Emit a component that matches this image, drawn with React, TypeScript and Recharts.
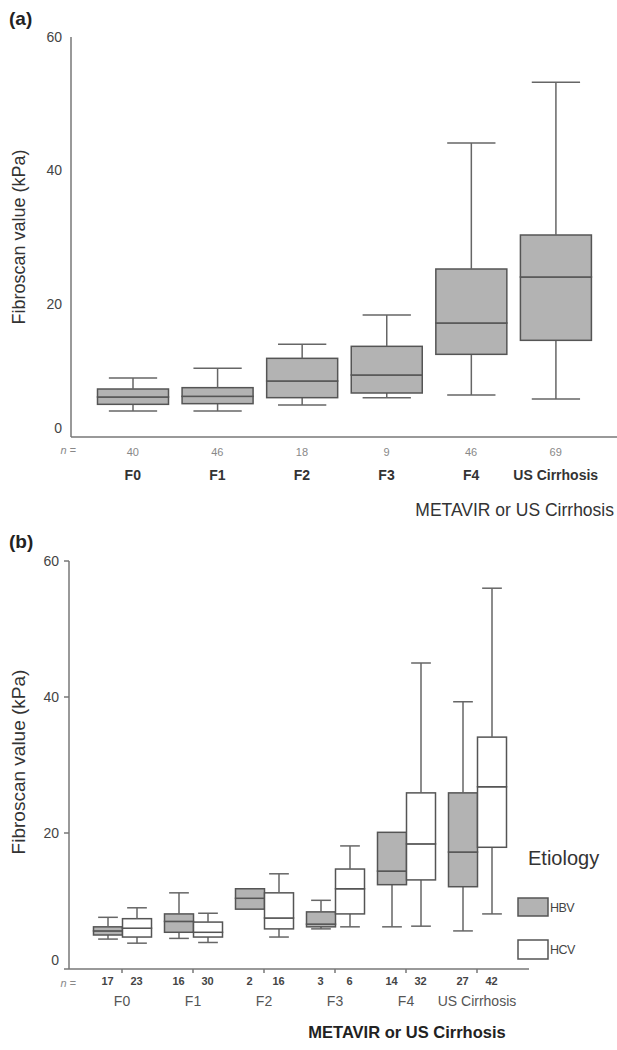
import React from "react";
import { ComposedChart, Bar, XAxis, YAxis } from "recharts";

// categories shared by both panels
const categories = ["F0", "F1", "F2", "F3", "F4", "US Cirrhosis"];
const yTicks = [0, 20, 40, 60];

// panel (a): all patients
const allN = [40, 46, 18, 9, 46, 69];
const allMin = [3.9, 3.9, 4.8, 5.9, 6.3, 5.7];
const allQ1 = [4.9, 5.0, 5.9, 6.6, 12.4, 14.5];
const allMedian = [6.0, 6.1, 8.4, 9.3, 17.1, 24.0];
const allQ3 = [7.2, 7.4, 11.8, 13.6, 25.2, 30.3];
const allMax = [8.85, 10.3, 13.9, 18.3, 44.1, 53.2];

// panel (b): HBV
const hbvN = [17, 16, 2, 3, 14, 27];
const hbvMin = [4.4, 4.5, 8.8, 5.9, 6.2, 5.6];
const hbvQ1 = [5.0, 5.4, 8.8, 6.2, 12.4, 12.1];
const hbvMedian = [5.6, 7.0, 10.4, 6.6, 14.4, 17.2];
const hbvQ3 = [6.2, 8.1, 11.8, 8.4, 20.1, 25.9];
const hbvMax = [7.6, 11.2, 11.8, 10.1, 20.1, 39.3];

// panel (b): HCV
const hcvN = [23, 30, 16, 6, 32, 42];
const hcvMin = [3.8, 3.9, 4.7, 6.2, 6.3, 8.1];
const hcvQ1 = [4.7, 4.7, 5.9, 8.1, 13.1, 17.9];
const hcvMedian = [6.0, 5.4, 7.5, 11.8, 18.4, 26.8];
const hcvQ3 = [7.4, 6.9, 11.2, 14.7, 25.9, 34.1];
const hcvMax = [9.0, 8.2, 14.0, 18.1, 45.0, 56.0];

const FONT = "'Liberation Sans', Arial, sans-serif";
const GREY = "#b3b3b3";
const EDGE = "#555";
const AXIS = "#777";

function stack(prefix: string, i: number, mn: number[], q1: number[], md: number[], q3: number[], mx: number[]) {
  return {
    [prefix + "Base"]: mn[i],
    [prefix + "Lw"]: q1[i] - mn[i],
    [prefix + "Lb"]: md[i] - q1[i],
    [prefix + "Ub"]: q3[i] - md[i],
    [prefix + "Uw"]: mx[i] - q3[i],
  };
}

const dataA = categories.map((cat, i) => ({
  cat,
  ...stack("all", i, allMin, allQ1, allMedian, allQ3, allMax),
}));

const dataB = categories.map((cat, i) => ({
  cat,
  ...stack("hbv", i, hbvMin, hbvQ1, hbvMedian, hbvQ3, hbvMax),
  ...stack("hcv", i, hcvMin, hcvQ1, hcvMedian, hcvQ3, hcvMax),
}));

const boxShape = (fill: string) => (p: any) => (
  <rect x={p.x} y={p.y} width={p.width} height={p.height} fill={fill} stroke={EDGE} strokeWidth={1.5} />
);

// whisker drawn from the box edge to the cap; cap at top or bottom
const whiskerShape = (upper: boolean) => (p: any) => {
  if (!p.height || p.height < 0.5) return null;
  const cx = p.x + p.width / 2;
  const half = p.width * 0.34;
  const capY = upper ? p.y : p.y + p.height;
  return (
    <g stroke="#666" strokeWidth={1.5}>
      <line x1={cx} x2={cx} y1={p.y} y2={p.y + p.height} />
      <line x1={cx - half} x2={cx + half} y1={capY} y2={capY} />
    </g>
  );
};

function boxBars(prefix: string, fill: string) {
  return [
    <Bar key={prefix + "b"} dataKey={prefix + "Base"} stackId={prefix} fill="none" shape={() => null} isAnimationActive={false} />,
    <Bar key={prefix + "lw"} dataKey={prefix + "Lw"} stackId={prefix} shape={whiskerShape(false)} isAnimationActive={false} />,
    <Bar key={prefix + "lb"} dataKey={prefix + "Lb"} stackId={prefix} shape={boxShape(fill)} isAnimationActive={false} />,
    <Bar key={prefix + "ub"} dataKey={prefix + "Ub"} stackId={prefix} shape={boxShape(fill)} isAnimationActive={false} />,
    <Bar key={prefix + "uw"} dataKey={prefix + "Uw"} stackId={prefix} shape={whiskerShape(true)} isAnimationActive={false} />,
  ];
}

const YTick = (p: any) => (
  <text x={p.x} y={p.y} dy={p.payload.value === 0 ? -4 : 5} textAnchor="end" fontSize={14} fill="#444" fontFamily={FONT}>
    {p.payload.value}
  </text>
);

const XTickA = (p: any) => (
  <g fontFamily={FONT} textAnchor="middle">
    <text x={p.x} y={p.y + 17} fontSize={11} fill="#888">{allN[p.index]}</text>
    <text x={p.x} y={p.y + 41} fontSize={14} fontWeight="bold" fill="#333">{p.payload.value}</text>
  </g>
);

const XTickB = (p: any) => (
  <g fontFamily={FONT} textAnchor="middle">
    <text x={p.x - 14.5} y={p.y + 10} fontSize={11} fontWeight="bold" fill="#444">{hbvN[p.index]}</text>
    <text x={p.x + 14.5} y={p.y + 10} fontSize={11} fontWeight="bold" fill="#444">{hcvN[p.index]}</text>
    <text x={p.x} y={p.y + 31} fontSize={14} fill="#555">{p.payload.value}</text>
  </g>
);

const overlay: React.CSSProperties = { position: "absolute", left: 0, top: 0, pointerEvents: "none" };

export default function App() {
  return (
    <div style={{ position: "absolute", left: 0, top: 0, width: 617, height: 1050, background: "#fff" }}>
      {/* panel (a) */}
      <div style={{ position: "absolute", left: 0, top: 0, width: 617, height: 520 }}>
        <ComposedChart width={617} height={520} data={dataA} barSize={71} margin={{ top: 37, right: 0, bottom: 43, left: 0 }}>
          <XAxis
            dataKey="cat"
            height={40}
            padding={{ left: 19.5, right: 19 }}
            axisLine={{ stroke: AXIS, strokeWidth: 1.5 }}
            tickLine={false}
            tickSize={0}
            tick={XTickA}
            interval={0}
          />
          <YAxis
            type="number"
            domain={[0, 60]}
            ticks={yTicks}
            width={71}
            axisLine={{ stroke: AXIS, strokeWidth: 1.5 }}
            tickLine={false}
            tickSize={0}
            tickMargin={9}
            tick={YTick}
          />
          {boxBars("all", GREY)}
        </ComposedChart>
        <svg width={617} height={520} style={overlay} fontFamily={FONT}>
          <text x={9} y={25} fontSize={19} fontWeight="bold" fill="#222">(a)</text>
          <text transform="translate(25,237) rotate(-90)" textAnchor="middle" fontSize={18} fill="#333">
            Fibroscan value (kPa)
          </text>
          <text x={76} y={454} textAnchor="end" fontSize={11} fontStyle="italic" fill="#888">n =</text>
          <text x={614} y={516} textAnchor="end" fontSize={17.5} fill="#333">METAVIR or US Cirrhosis</text>
        </svg>
      </div>

      {/* panel (b) */}
      <div style={{ position: "absolute", left: 0, top: 520, width: 617, height: 530 }}>
        <ComposedChart width={617} height={530} data={dataB} barSize={29} barGap={0} margin={{ top: 41, right: 88, bottom: 41, left: 0 }}>
          <XAxis
            dataKey="cat"
            height={40}
            padding={{ left: 17.5, right: 16.5 }}
            axisLine={{ stroke: AXIS, strokeWidth: 1.5 }}
            tickLine={{ stroke: AXIS, strokeWidth: 1.5 }}
            tickSize={4}
            tick={XTickB}
            interval={0}
          />
          <YAxis
            type="number"
            domain={[0, 60]}
            ticks={yTicks}
            width={69}
            axisLine={{ stroke: AXIS, strokeWidth: 1.5 }}
            tickLine={{ stroke: AXIS, strokeWidth: 1.5 }}
            tickSize={5}
            tickMargin={5}
            tick={YTick}
          />
          {boxBars("hbv", GREY)}
          {boxBars("hcv", "#fff")}
        </ComposedChart>
        <svg width={617} height={530} style={overlay} fontFamily={FONT}>
          <text x={9} y={28} fontSize={19} fontWeight="bold" fill="#222">(b)</text>
          <text transform="translate(25,242) rotate(-90)" textAnchor="middle" fontSize={19} fill="#333">
            Fibroscan value (kPa)
          </text>
          <text x={76} y={467} textAnchor="end" fontSize={11} fontStyle="italic" fill="#888">n =</text>
          <text x={407} y={518} textAnchor="middle" fontSize={16.5} fontWeight="bold" fill="#222">METAVIR or US Cirrhosis</text>
          <text x={528} y={345} fontSize={20} fill="#333">Etiology</text>
          <rect x={518} y={378} width={30} height={18} fill={GREY} stroke={EDGE} strokeWidth={1.5} />
          <text x={550} y={392} fontSize={12.5} fill="#444" letterSpacing={-0.5}>HBV</text>
          <rect x={518} y={420} width={30} height={19} fill="#fff" stroke={EDGE} strokeWidth={1.5} />
          <text x={550} y={434} fontSize={12.5} fill="#444" letterSpacing={-0.5}>HCV</text>
        </svg>
      </div>
    </div>
  );
}
